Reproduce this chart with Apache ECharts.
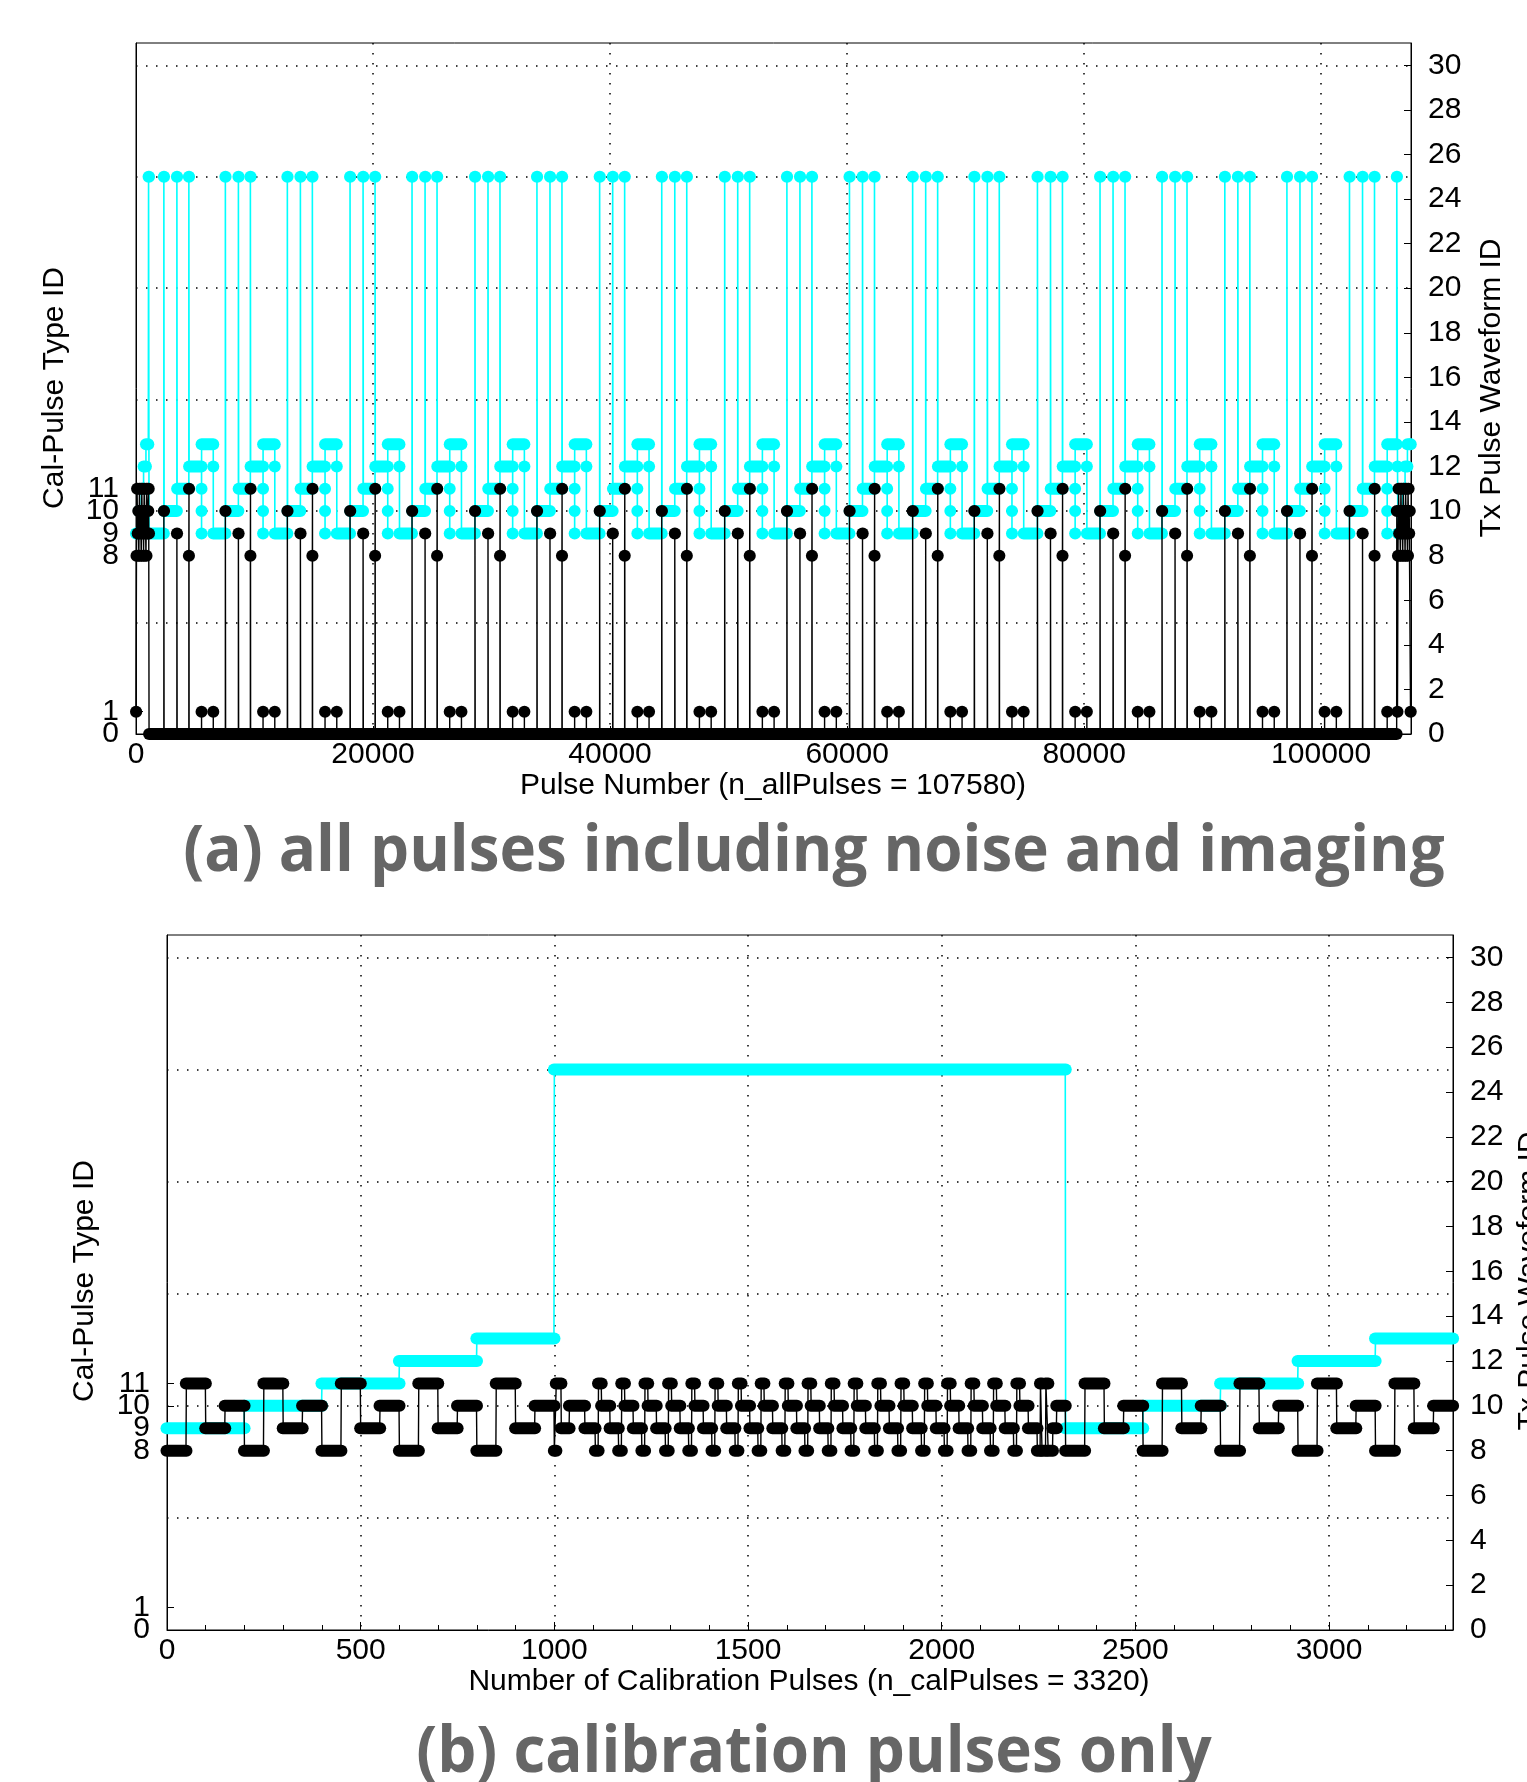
<!DOCTYPE html>
<html><head><meta charset="utf-8">
<script src="https://cdn.jsdelivr.net/npm/echarts@6/dist/echarts.min.js"></script>
<style>html,body{margin:0;padding:0;background:#fff}#c{width:1527px;height:1782px}</style>
</head><body><div id="c"></div>
<script>
// ================= DATA =================
// Panel (a): all pulses (x = pulse number)
const nAllPulses = 107580;
const aXInterval = 20000;
const leftTickValues = [0, 1, 8, 9, 10, 11];
const rightTickValues = [0, 2, 4, 6, 8, 10, 12, 14, 16, 18, 20, 22, 24, 26, 28, 30];
// calibration bursts within the imaging stream (pulse numbers)
const aCal10Bursts = [2350, 7540, 12770, 18060, 23290, 28600, 33830, 39120, 44360, 49670, 54920, 60200, 65530, 70730, 76060, 81340, 86570, 91870, 97110, 102390];
const aCal9Bursts = [3450, 8640, 13870, 19160, 24390, 29700, 34930, 40220, 45460, 50770, 56020, 61300, 66630, 71830, 77160, 82440, 87670, 92970, 98210, 103490];
const aCal8and11Bursts = [4460, 9650, 14880, 20170, 25400, 30710, 35940, 41230, 46470, 51780, 57030, 62310, 67640, 72840, 78170, 83450, 88680, 93980, 99220, 104500];
const aNoiseABursts = [5530, 10720, 15950, 21240, 26470, 31780, 37010, 42300, 47540, 52850, 58100, 63380, 68710, 73910, 79240, 84520, 89750, 95050, 100290, 105570];
const aNoiseBBursts = [6520, 11710, 16940, 22230, 27460, 32770, 38000, 43290, 48530, 53840, 59090, 64370, 69700, 74900, 80230, 85510, 90740, 96040, 101280, 106440];
// Tx waveform of imaging pulses after each burst kind: after cal10, cal9, cal8/11, noiseA, noiseB
const aTxStair = [10, 11, 12, 13, 9];
const aTxCalBurst = 25;
const aNoiseATx = [11, 10, 9];
const aNoiseBTx = [12];
// dense calibration blocks at start and end of the record (50 pulses each)
const aBlockCalType = [8, 11, 9, 10, 8, 11, 9, 10, 8, 11, 9, 10, 8, 11, 9, 10, 8, 11, 9, 10];
const aBlockTx = [9, 9, 9, 9, 10, 10, 10, 10, 11, 11, 11, 11, 12, 12, 12, 12, 13, 13, 13, 13];
const aHeadBlockStart = 40, aTailBlockStart = 106480, aBlockLen = 50;

// Panel (b): calibration pulses only (x = cal pulse number)
const nCalPulses = 3320;
const bXInterval = 500;
const bTxRuns = [[0,199,9],[200,399,10],[400,599,11],[600,799,12],[800,999,13],[1000,2319,25],[2320,2519,9],[2520,2719,10],[2720,2919,11],[2920,3119,12],[3120,3319,13]];
const bBlockCalType = [8, 11, 9, 10, 8, 11, 9, 10, 8, 11, 9, 10, 8, 11, 9, 10, 8, 11, 9, 10];
const bHeadBlockStart = 0, bTailBlockStart = 2320, bBlockLen = 50;
const bDenseHeadRuns = [[1000,1004,8],[1005,1017,11],[1018,1038,9],[1039,1078,10],[1079,1105,9]];
const bDense11Times = [1114, 1174, 1234, 1295, 1355, 1415, 1475, 1534, 1596, 1655, 1715, 1774, 1835, 1895, 1956, 2015, 2076, 2134, 2194];
const bDenseTailRuns = [[2247,2254,8],[2255,2258,11],[2259,2268,8],[2269,2274,11],[2275,2286,8],[2287,2296,9],[2297,2319,10]];

// ================= BUILD =================
const aSeq = []; // [start, end, calType, tx]
aSeq.push([0, 20, 1, 9]);
aBlockCalType.forEach((c, i) => aSeq.push([aHeadBlockStart + aBlockLen*i, aHeadBlockStart + aBlockLen*i + aBlockLen - 1, c, aBlockTx[i]]));
aSeq.push([1060, 1075, 11, aTxCalBurst]);
aSeq.push([1076, 1100, 9, aTxCalBurst]);
aSeq.push([1101, aCal10Bursts[0] - 1, 0, aTxStair[4]]);
for (let k = 0; k < aCal10Bursts.length; k++) {
  const S = aCal10Bursts[k], C9 = aCal9Bursts[k], C8 = aCal8and11Bursts[k], NA = aNoiseABursts[k], NB = aNoiseBBursts[k];
  aSeq.push([S, S + 20, 10, aTxCalBurst]);
  aSeq.push([S + 21, C9 - 1, 0, aTxStair[0]]);
  aSeq.push([C9, C9 + 20, 9, aTxCalBurst]);
  aSeq.push([C9 + 21, C8 - 1, 0, aTxStair[1]]);
  aSeq.push([C8, C8 + 10, 8, aTxCalBurst]);
  aSeq.push([C8 + 11, C8 + 20, 11, aTxCalBurst]);
  aSeq.push([C8 + 21, NA - 1, 0, aTxStair[2]]);
  aNoiseATx.forEach((t, j) => aSeq.push([NA + j, NA + j, 1, t]));
  if (k < aCal10Bursts.length - 1) {
    aSeq.push([NA + 3, NB - 1, 0, aTxStair[3]]);
    aNoiseBTx.forEach((t, j) => aSeq.push([NB + j, NB + j + 2, 1, t]));
    aSeq.push([NB + 3, aCal10Bursts[k + 1] - 1, 0, aTxStair[4]]);
  } else {
    aSeq.push([NA + 3, 106370, 0, aTxStair[3]]);
    aSeq.push([106380, 106400, 10, aTxCalBurst]);
    aSeq.push([NB, NB + 2, 1, aNoiseBTx[0]]);
    aBlockCalType.forEach((c, i) => aSeq.push([aTailBlockStart + aBlockLen*i, aTailBlockStart + aBlockLen*i + aBlockLen - 1, c, aBlockTx[i]]));
    aSeq.push([107540, 107560, 1, 13]);
  }
}

function runsOf(seq, idx) {
  const runs = [];
  for (const g of seq) {
    const v = g[idx], last = runs[runs.length - 1];
    if (last && last[2] === v && g[0] <= last[1] + 1) last[1] = g[1];
    else runs.push([g[0], g[1], v]);
  }
  return runs;
}
function pathOf(runs) {
  const p = [];
  runs.forEach(r => { p.push([r[0], r[2]]); if (r[1] !== r[0]) p.push([r[1], r[2]]); });
  return p;
}
const aCalRuns = runsOf(aSeq, 2);
const aTxRuns = runsOf(aSeq, 3);

const bCalRuns = [];
bBlockCalType.forEach((c, i) => bCalRuns.push([bHeadBlockStart + bBlockLen*i, bHeadBlockStart + bBlockLen*i + bBlockLen - 1, c]));
bDenseHeadRuns.forEach(r => bCalRuns.push(r.slice()));
bDense11Times.forEach((t, i) => {
  const next = i < bDense11Times.length - 1 ? bDense11Times[i + 1] : bDenseTailRuns[1][0];
  bCalRuns.push([t - 8, t - 1, 8]);
  bCalRuns.push([t, t + 7, 11]);
  bCalRuns.push([t + 8, t + 29, 10]);
  bCalRuns.push([t + 30, next - 9, 9]);
});
bDenseTailRuns.forEach(r => bCalRuns.push(r.slice()));
bBlockCalType.forEach((c, i) => bCalRuns.push([bTailBlockStart + bBlockLen*i, bTailBlockStart + bBlockLen*i + bBlockLen - 1, c]));

// ================= CHART =================
const CYAN = '#00ffff', BLACK = '#000000';
const FONT = '"Liberation Sans", Arial, Helvetica, sans-serif';
const dotted = { color: '#000', width: 1.5, type: [1.5, 8.5] };
// labels are split over two left axes so that neighbouring labels (1 unit apart) are all kept
const leftLabelsA = leftTickValues.filter((v, i) => i % 2 === 0);
const leftLabelsB = leftTickValues.filter((v, i) => i % 2 === 1);

function capsule(W, H, color) {
  return function (params, api) {
    const p1 = api.coord([api.value(0), api.value(2)]);
    const p2 = api.coord([api.value(1), api.value(2)]);
    return { type: 'rect', shape: { x: p1[0] - W / 2, y: p1[1] - H / 2, width: Math.max(0, p2[0] - p1[0]) + W, height: H, r: H / 2 }, style: { fill: color } };
  };
}
function thin(xi, yi, data, color, w, z) {
  return { type: 'line', xAxisIndex: xi, yAxisIndex: yi, data: data, showSymbol: false, symbol: 'none', silent: true, z: z,
    lineStyle: { color: color, width: w }, animation: false, clip: false };
}
function caps(xi, yi, runs, W, H, color, z) {
  return { type: 'custom', xAxisIndex: xi, yAxisIndex: yi, data: runs, renderItem: capsule(W, H, color), silent: true, z: z,
    encode: { x: [0, 1], y: 2 }, animation: false, clip: false };
}
function yAxes(gi) {
  const lab = { fontSize: 30, fontFamily: FONT, color: '#000', margin: 17, hideOverlap: false, showMinLabel: true, showMaxLabel: true };
  const line = { show: true, onZero: false, lineStyle: { color: '#000' } };
  const base = { gridIndex: gi, type: 'value', min: 0, max: 31, splitLine: { show: false } };
  return [
    Object.assign({}, base, { position: 'left', axisLine: line,
      axisTick: { show: true, inside: true, length: 7, customValues: leftTickValues, lineStyle: { color: '#000' } },
      axisLabel: Object.assign({ customValues: leftLabelsA }, lab) }),
    Object.assign({}, base, { position: 'left', axisLine: { show: false, onZero: false }, axisTick: { show: false },
      axisLabel: Object.assign({ customValues: leftLabelsB }, lab) }),
    Object.assign({}, base, { position: 'right', axisLine: line,
      axisTick: { show: true, inside: true, length: 7, customValues: rightTickValues, lineStyle: { color: '#000' } },
      axisLabel: Object.assign({ customValues: rightTickValues }, lab) }),
    { gridIndex: gi, type: 'value', min: 0, max: 31, interval: 5, position: 'left', axisLine: { show: false, onZero: false }, axisTick: { show: false },
      axisLabel: { show: false }, splitLine: { show: true, showMinLine: false, showMaxLine: false, lineStyle: dotted } }
  ];
}
function xAxisFor(gi, max, interval) {
  return { gridIndex: gi, type: 'value', min: 0, max: max, interval: interval, position: 'bottom',
    axisLine: { show: true, onZero: false, lineStyle: { color: '#000' } },
    axisTick: { show: true, inside: true, length: 8, lineStyle: { color: '#000' } },
    axisLabel: { fontSize: 30, fontFamily: FONT, color: '#000', margin: 6, showMinLabel: true, showMaxLabel: false, hideOverlap: false,
      formatter: v => String(v) },
    splitLine: { show: true, showMinLine: false, showMaxLine: false, lineStyle: dotted } };
}

const txt = (text, x, y, opt) => Object.assign({ type: 'text', x: x, y: y, silent: true,
  style: Object.assign({ text: text, font: '30px ' + FONT, fill: '#000', textAlign: 'center', textVerticalAlign: 'middle' }, opt && opt.style || {}) },
  opt && opt.el || {});
const TITLE_FONT = 'bold 64px "Open Sans", sans-serif';

const option = {
  animation: false,
  backgroundColor: '#fff',
  grid: [
    { left: 136, top: 43, width: 1275, height: 691, show: true, borderColor: '#000', borderWidth: 1, backgroundColor: 'transparent' },
    { left: 167, top: 935, width: 1286, height: 695, show: true, borderColor: '#000', borderWidth: 1, backgroundColor: 'transparent' }
  ],
  xAxis: [
    xAxisFor(0, nAllPulses, aXInterval),
    xAxisFor(1, nCalPulses, bXInterval),
    { gridIndex: 1, type: 'value', min: 0, max: nCalPulses, interval: 100, position: 'bottom', axisLine: { show: false, onZero: false },
      axisTick: { show: true, inside: true, length: 5, lineStyle: { color: '#000' } }, axisLabel: { show: false }, splitLine: { show: false } }
  ],
  yAxis: yAxes(0).concat(yAxes(1)),
  series: [
    thin(0, 0, pathOf(aTxRuns), CYAN, 1.6, 2),
    caps(0, 0, aTxRuns, 12, 12, CYAN, 3),
    thin(0, 0, pathOf(aCalRuns), BLACK, 1.4, 4),
    caps(0, 0, aCalRuns, 12, 12, BLACK, 5),
    thin(1, 4, pathOf(bTxRuns), CYAN, 1.6, 2),
    caps(1, 4, bTxRuns, 13, 12, CYAN, 3),
    thin(1, 4, pathOf(bCalRuns), BLACK, 1.4, 4),
    caps(1, 4, bCalRuns, 13, 12, BLACK, 5)
  ],
  graphic: [
    txt('Cal-Pulse Type ID', 55, 388, { el: { rotation: Math.PI / 2 } }),
    txt('Tx Pulse Waveform ID', 1492, 388, { el: { rotation: Math.PI / 2 } }),
    txt('Pulse Number (n_allPulses = 107580)', 773, 786),
    txt('(a) all pulses including noise and imaging', 814, 853, { style: { font: TITLE_FONT, fill: '#666666' }, el: { scaleX: 0.967 } }),
    txt('Cal-Pulse Type ID', 85, 1281, { el: { rotation: Math.PI / 2 } }),
    txt('Tx Pulse Waveform ID', 1530, 1281, { el: { rotation: Math.PI / 2 } }),
    txt('Number of Calibration Pulses (n_calPulses = 3320)', 809, 1682),
    txt('(b) calibration pulses only', 814, 1754, { style: { font: TITLE_FONT, fill: '#666666' }, el: { scaleX: 0.967 } })
  ]
};
const chart = echarts.init(document.getElementById('c'), null, { renderer: 'canvas' });
chart.setOption(option);
</script></body></html>
